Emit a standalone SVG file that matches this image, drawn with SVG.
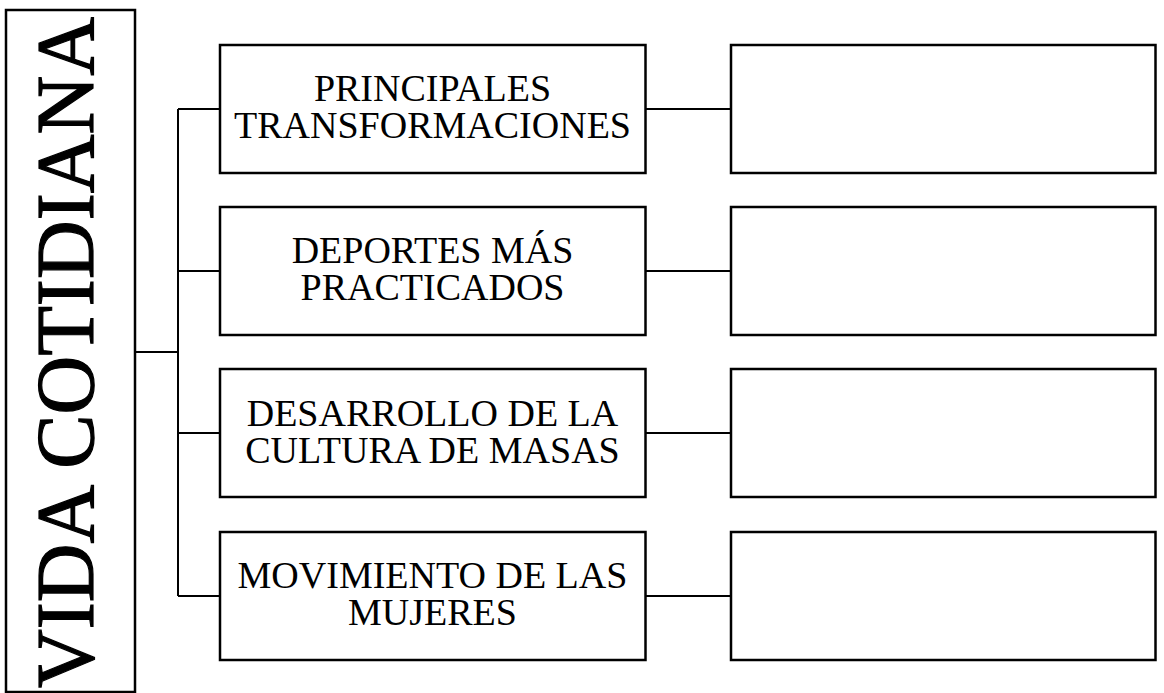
<svg xmlns="http://www.w3.org/2000/svg" width="1164" height="693" viewBox="0 0 1164 693">
<style>
.box{fill:#fff;stroke:#000;stroke-width:2.5}
.ln{fill:none;stroke:#000;stroke-width:2}
.t{font-size:38px;fill:#000;text-anchor:middle}
.v{font-size:82px;fill:#000;stroke:#000;stroke-width:1.2;text-anchor:middle}
</style>
<rect width="1164" height="693" fill="#fff"/>
<g id="connectors">
<path class="ln" d="M135 352H178M178 109V596M178 109H220M178 271H220M178 433H220M178 596H220"/>
<path class="ln" d="M645 109H731M645 271H731M645 433H731M645 596H731"/>
</g>
<g font-family="Liberation Serif, DejaVu Serif, serif">
<g id="root">
<rect class="box" x="6" y="10" width="129" height="682"/>
<text class="v" transform="translate(93,352.5) rotate(-90)" textLength="671" lengthAdjust="spacingAndGlyphs">VIDA COTIDIANA</text>
</g>
<g id="n1">
<rect class="box" x="220" y="45" width="425.5" height="128"/>
<text class="t" x="432.5" y="101">PRINCIPALES</text>
<text class="t" x="432.5" y="138">TRANSFORMACIONES</text>
</g>
<g id="n2">
<rect class="box" x="220" y="207" width="425.5" height="128"/>
<text class="t" x="432.5" y="263">DEPORTES MÁS</text>
<text class="t" x="432.5" y="300">PRACTICADOS</text>
</g>
<g id="n3">
<rect class="box" x="220" y="369" width="425.5" height="128"/>
<text class="t" x="432.5" y="426">DESARROLLO DE LA</text>
<text class="t" x="432.5" y="463">CULTURA DE MASAS</text>
</g>
<g id="n4">
<rect class="box" x="220" y="532" width="425.5" height="128"/>
<text class="t" x="432.5" y="588">MOVIMIENTO DE LAS</text>
<text class="t" x="432.5" y="625">MUJERES</text>
</g>
</g>
<g id="r1"><rect class="box" x="731" y="45" width="424.5" height="128"/></g>
<g id="r2"><rect class="box" x="731" y="207" width="424.5" height="128"/></g>
<g id="r3"><rect class="box" x="731" y="369" width="424.5" height="128"/></g>
<g id="r4"><rect class="box" x="731" y="532" width="424.5" height="128"/></g>
</svg>
